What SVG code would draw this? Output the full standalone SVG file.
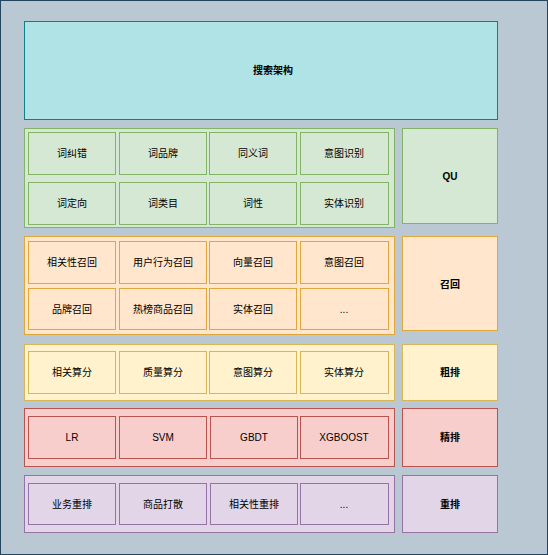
<svg xmlns="http://www.w3.org/2000/svg" width="548" height="555" viewBox="0 0 548 555">
<style>
text{font-family:"Liberation Sans","Noto Sans CJK SC",sans-serif;font-size:10px;fill:#000;text-anchor:middle;dominant-baseline:central}
.b{font-weight:bold}
.qu{fill:#d5e8d4;stroke:#82b366}
.rc{fill:#ffe6cc;stroke:#e0a83a}
.cr{fill:#fff2cc;stroke:#d6b656}
.fn{fill:#f8cecc;stroke:#b85450}
.rr{fill:#e1d5e7;stroke:#9673a6}
rect{stroke-width:1}
</style>
<rect x="0.5" y="0.5" width="547" height="554" fill="#bac8d3" stroke="#23445d"/>
<g id="title"><rect x="24.5" y="21.5" width="473" height="98" fill="#b0e3e6" stroke="#0e8088"/><text class="b" x="273" y="70">搜索架构</text></g>

<g id="qu-layer">
<rect class="qu" x="24.5" y="128.5" width="370" height="99"/>
<g id="qu1"><rect class="qu" x="28.5" y="132.5" width="87" height="42"/><text x="72" y="153">词纠错</text></g>
<g id="qu2"><rect class="qu" x="119.5" y="132.5" width="87" height="42"/><text x="163" y="153">词品牌</text></g>
<g id="qu3"><rect class="qu" x="209.5" y="132.5" width="87" height="42"/><text x="253" y="153">同义词</text></g>
<g id="qu4"><rect class="qu" x="300.5" y="132.5" width="88" height="42"/><text x="344" y="153">意图识别</text></g>
<g id="qu5"><rect class="qu" x="28.5" y="182.5" width="87" height="42"/><text x="72" y="203">词定向</text></g>
<g id="qu6"><rect class="qu" x="119.5" y="182.5" width="87" height="42"/><text x="163" y="203">词类目</text></g>
<g id="qu7"><rect class="qu" x="209.5" y="182.5" width="87" height="42"/><text x="253" y="203">词性</text></g>
<g id="qu8"><rect class="qu" x="300.5" y="182.5" width="88" height="42"/><text x="344" y="203">实体识别</text></g>
</g>
<g id="qu"><rect class="qu" x="402.5" y="128.5" width="95" height="95"/><text class="b" x="450" y="176">QU</text></g>

<g id="recall-layer">
<rect class="rc" x="24.5" y="236.5" width="370" height="98"/>
<g id="rc1"><rect class="rc" x="28.5" y="241.5" width="87" height="42"/><text x="72" y="262">相关性召回</text></g>
<g id="rc2"><rect class="rc" x="119.5" y="241.5" width="87" height="42"/><text x="163" y="262">用户行为召回</text></g>
<g id="rc3"><rect class="rc" x="209.5" y="241.5" width="87" height="42"/><text x="253" y="262">向量召回</text></g>
<g id="rc4"><rect class="rc" x="300.5" y="241.5" width="88" height="42"/><text x="344" y="262">意图召回</text></g>
<g id="rc5"><rect class="rc" x="28.5" y="288.5" width="87" height="41"/><text x="72" y="309">品牌召回</text></g>
<g id="rc6"><rect class="rc" x="119.5" y="288.5" width="87" height="41"/><text x="163" y="309">热榜商品召回</text></g>
<g id="rc7"><rect class="rc" x="209.5" y="288.5" width="87" height="41"/><text x="253" y="309">实体召回</text></g>
<g id="rc8"><rect class="rc" x="300.5" y="288.5" width="88" height="41"/><text x="344" y="309">...</text></g>
</g>
<g id="recall"><rect class="rc" x="402.5" y="236.5" width="95" height="94"/><text class="b" x="450" y="284">召回</text></g>

<g id="coarse-layer">
<rect class="cr" x="24.5" y="344.5" width="370" height="56"/>
<g id="cr1"><rect class="cr" x="28.5" y="351.5" width="87" height="42"/><text x="72" y="372">相关算分</text></g>
<g id="cr2"><rect class="cr" x="119.5" y="351.5" width="87" height="42"/><text x="163" y="372">质量算分</text></g>
<g id="cr3"><rect class="cr" x="209.5" y="351.5" width="87" height="42"/><text x="253" y="372">意图算分</text></g>
<g id="cr4"><rect class="cr" x="300.5" y="351.5" width="88" height="42"/><text x="344" y="372">实体算分</text></g>
</g>
<g id="coarse"><rect class="cr" x="402.5" y="344.5" width="95" height="56"/><text class="b" x="450" y="372">粗排</text></g>

<g id="fine-layer">
<rect class="fn" x="24.5" y="408.5" width="370" height="58"/>
<g id="fn1"><rect class="fn" x="28.5" y="416.5" width="87" height="42"/><text x="72" y="437">LR</text></g>
<g id="fn2"><rect class="fn" x="119.5" y="416.5" width="87" height="42"/><text x="163" y="437">SVM</text></g>
<g id="fn3"><rect class="fn" x="210.5" y="416.5" width="87" height="42"/><text x="254" y="437">GBDT</text></g>
<g id="fn4"><rect class="fn" x="300.5" y="416.5" width="88" height="42"/><text x="344" y="437">XGBOOST</text></g>
</g>
<g id="fine"><rect class="fn" x="402.5" y="408.5" width="95" height="58"/><text class="b" x="450" y="437">精排</text></g>

<g id="rerank-layer">
<rect class="rr" x="24.5" y="475.5" width="370" height="57"/>
<g id="rr1"><rect class="rr" x="28.5" y="483.5" width="87" height="41"/><text x="72" y="504">业务重排</text></g>
<g id="rr2"><rect class="rr" x="119.5" y="483.5" width="87" height="41"/><text x="163" y="504">商品打散</text></g>
<g id="rr3"><rect class="rr" x="210.5" y="483.5" width="87" height="41"/><text x="254" y="504">相关性重排</text></g>
<g id="rr4"><rect class="rr" x="300.5" y="483.5" width="88" height="41"/><text x="344" y="504">...</text></g>
</g>
<g id="rerank"><rect class="rr" x="402.5" y="475.5" width="95" height="57"/><text class="b" x="450" y="504">重排</text></g>
<g id="connectors"/>
</svg>
